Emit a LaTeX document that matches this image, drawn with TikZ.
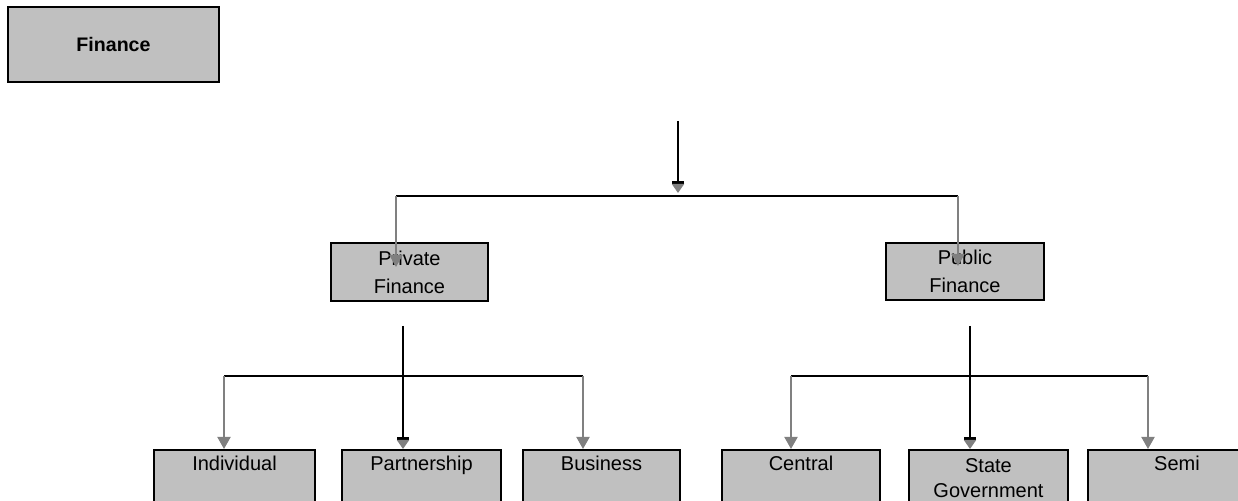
\documentclass[tikz,border=0pt]{standalone}
\usepackage{fontspec}
\setmainfont{Liberation Sans}
\usetikzlibrary{arrows.meta}
\definecolor{boxfill}{HTML}{C0C0C0}
\definecolor{linegray}{HTML}{808080}
\begin{document}
\begin{tikzpicture}[x=0.5pt,y=-0.5pt,
  box/.style={draw=black,fill=boxfill,line width=0.8pt,rectangle,inner sep=0pt},
  txt/.style={font=\fontsize{10}{14}\selectfont},
  lowbox/.style={box,anchor=north,minimum height=45pt},
  lowlbl/.style={anchor=north,inner sep=0pt,yshift=-3.3pt,font=\fontsize{10}{12.3}\selectfont,align=center},
  bline/.style={draw=black,line width=0.85pt},
  gconn/.style={draw=linegray,line width=1pt,-{Triangle[width=6.5pt,length=6pt,color=linegray]}},
  stemconn/.style={draw=black,line width=0.85pt,-{Bar[width=6pt,line width=1.4pt,sep=0pt]Triangle[width=6pt,length=4.5pt,color=linegray]}},
]
\useasboundingbox (0,0) rectangle (1238,501);
\clip (0,0) rectangle (1238,501);

% boxes
\node[box,line width=0.9pt,minimum width=105.5pt,minimum height=37.5pt,font=\bfseries\fontsize{9.8}{12}\selectfont] (fin) at (113.5,44.5) {Finance};
\node[box,txt,align=center,minimum width=78.5pt,minimum height=29pt] (priv) at (409.5,272) {Private\\Finance};
\node[box,txt,align=center,minimum width=79pt,minimum height=28.5pt] (pub) at (965,271.5) {Public\\Finance};

\node[lowbox,minimum width=80.5pt,label={[lowlbl]north:Individual}] (ind) at (234.5,449) {};
\node[lowbox,minimum width=79.5pt,label={[lowlbl]north:Partnership}] (part) at (421.5,449) {};
\node[lowbox,minimum width=78.5pt,label={[lowlbl]north:Business}] (bus) at (601.5,449) {};
\node[lowbox,minimum width=79pt,label={[lowlbl]north:Central}] (cen) at (801,449) {};
\node[lowbox,minimum width=79.5pt,label={[lowlbl,yshift=-1.5pt]north:State\\Government}] (sta) at (988.5,449) {};
\node[lowbox,minimum width=89pt,label={[lowlbl]north:Semi}] (semi) at (1177,449) {};

% coordinates
\coordinate (t0) at (678,121);
\coordinate (j0) at (678,196);
\coordinate (jl0) at (396,196);
\coordinate (jr0) at (958,196);
\coordinate (pe) at (396,267);
\coordinate (qe) at (958,266);

\coordinate (s1) at (403,326);
\coordinate (jl1) at (224,376);
\coordinate (jr1) at (583,376);
\coordinate (s2) at (970,326);
\coordinate (jl2) at (791,376);
\coordinate (jr2) at (1148,376);

% level 1 connectors
\draw[bline] (jl0) -- (jr0);
\draw[stemconn,shorten >=1.5pt] (t0) -- (j0);
\draw[gconn] (jl0) -- (pe);
\draw[gconn] (jr0) -- (qe);

% level 2 left
\draw[bline] (jl1) -- (jr1);
\draw[gconn] (jl1) -- (jl1 |- ind.north);
\draw[gconn] (jr1) -- (jr1 |- bus.north);
\draw[stemconn] (s1) -- (s1 |- part.north);

% level 2 right
\draw[bline] (jl2) -- (jr2);
\draw[gconn] (jl2) -- (jl2 |- cen.north);
\draw[gconn] (jr2) -- (jr2 |- semi.north);
\draw[stemconn] (s2) -- (s2 |- sta.north);
\end{tikzpicture}
\end{document}
